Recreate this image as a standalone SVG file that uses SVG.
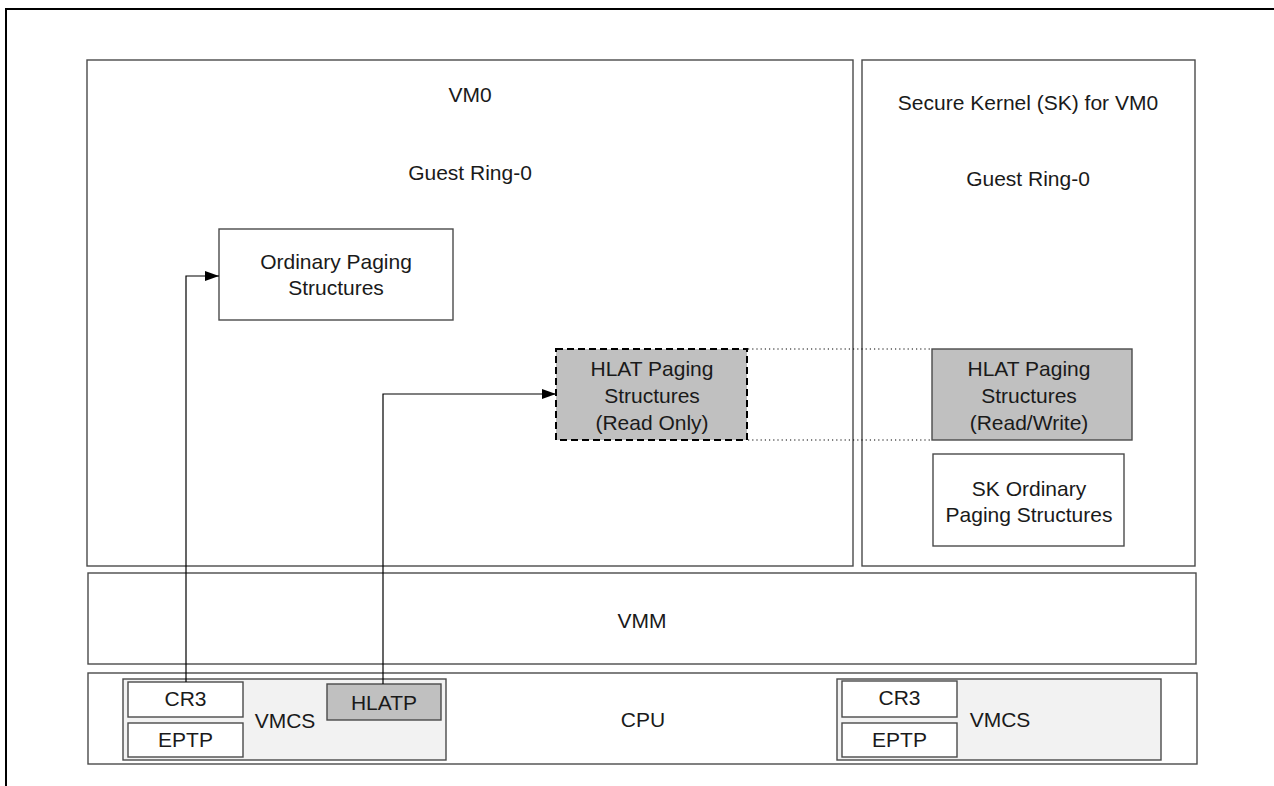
<svg xmlns="http://www.w3.org/2000/svg" width="1274" height="786" viewBox="0 0 1274 786">
<defs>
<style>
.box{fill:#ffffff;stroke:#4a4a4a;stroke-width:1.4}
.vmcs{fill:#f2f2f2;stroke:#4a4a4a;stroke-width:1.4}
.grey{fill:#c0c0c0;stroke:#4a4a4a;stroke-width:1.4}
.dash{fill:#c0c0c0;stroke:#000000;stroke-width:2;stroke-dasharray:7,4}
.t{font-family:"Liberation Sans",Arial,sans-serif;font-size:21px;fill:#1a1a1a;text-anchor:middle}
.conn{fill:none;stroke:#000000;stroke-width:1.2}
.dot{fill:none;stroke:#000000;stroke-width:1.2;stroke-dasharray:1.2,3}
</style>
<marker id="arr" viewBox="0 0 14 10" refX="14" refY="5" markerWidth="14" markerHeight="10" markerUnits="userSpaceOnUse" orient="auto">
<path d="M0,0 L14,5 L0,10 Z" fill="#000000"/>
</marker>
</defs>
<rect width="1274" height="786" fill="#ffffff"/>
<path d="M6,786 V9 H1274" fill="none" stroke="#000000" stroke-width="2"/>

<g id="vm0">
<rect class="box" x="87" y="60" width="766" height="506"/>
<text class="t" x="470" y="102">VM0</text>
<text class="t" x="470" y="180">Guest Ring-0</text>
</g>

<g id="sk">
<rect class="box" x="862" y="60" width="333" height="506"/>
<text class="t" x="1028" y="110">Secure Kernel (SK) for VM0</text>
<text class="t" x="1028" y="186">Guest Ring-0</text>
</g>

<g id="ordinary-paging">
<rect class="box" x="219" y="229" width="234" height="91"/>
<text class="t" x="336" y="269">Ordinary Paging</text>
<text class="t" x="336" y="295">Structures</text>
</g>

<g id="hlat-ro">
<rect class="dash" x="556" y="349" width="191" height="91"/>
<text class="t" x="652" y="376">HLAT Paging</text>
<text class="t" x="652" y="403">Structures</text>
<text class="t" x="652" y="430">(Read Only)</text>
</g>

<g id="hlat-rw">
<rect class="grey" x="932" y="349" width="200" height="91"/>
<text class="t" x="1029" y="376">HLAT Paging</text>
<text class="t" x="1029" y="403">Structures</text>
<text class="t" x="1029" y="430">(Read/Write)</text>
</g>

<g id="sk-ordinary">
<rect class="box" x="933" y="454" width="191" height="92"/>
<text class="t" x="1029" y="496">SK Ordinary</text>
<text class="t" x="1029" y="522">Paging Structures</text>
</g>

<g id="vmm">
<rect class="box" x="88" y="573" width="1108" height="91"/>
<text class="t" x="642" y="628">VMM</text>
</g>

<g id="cpu">
<rect class="box" x="88" y="673" width="1109" height="91"/>
<text class="t" x="643" y="727">CPU</text>
</g>

<g id="vmcs-vm0">
<rect class="vmcs" x="123" y="679" width="323" height="81"/>
<text class="t" x="285" y="728">VMCS</text>
</g>
<g id="cr3-vm0">
<rect class="box" x="128" y="682" width="115" height="35"/>
<text class="t" x="185.5" y="706">CR3</text>
</g>
<g id="eptp-vm0">
<rect class="box" x="128" y="723" width="115" height="34"/>
<text class="t" x="185.5" y="747">EPTP</text>
</g>
<g id="hlatp">
<rect class="grey" x="327" y="684" width="114" height="36"/>
<text class="t" x="384" y="710">HLATP</text>
</g>

<g id="vmcs-sk">
<rect class="vmcs" x="837" y="679" width="324" height="81"/>
<text class="t" x="1000" y="727">VMCS</text>
</g>
<g id="cr3-sk">
<rect class="box" x="842" y="681" width="115" height="36"/>
<text class="t" x="899.5" y="705">CR3</text>
</g>
<g id="eptp-sk">
<rect class="box" x="842" y="723" width="115" height="34"/>
<text class="t" x="899.5" y="747">EPTP</text>
</g>

<g id="connectors">
<path class="conn" d="M186,682 V276 H219" marker-end="url(#arr)"/>
<path class="conn" d="M383,684 V394 H556" marker-end="url(#arr)"/>
<path class="dot" d="M748,349 H932"/>
<path class="dot" d="M748,440 H932"/>
</g>
</svg>
